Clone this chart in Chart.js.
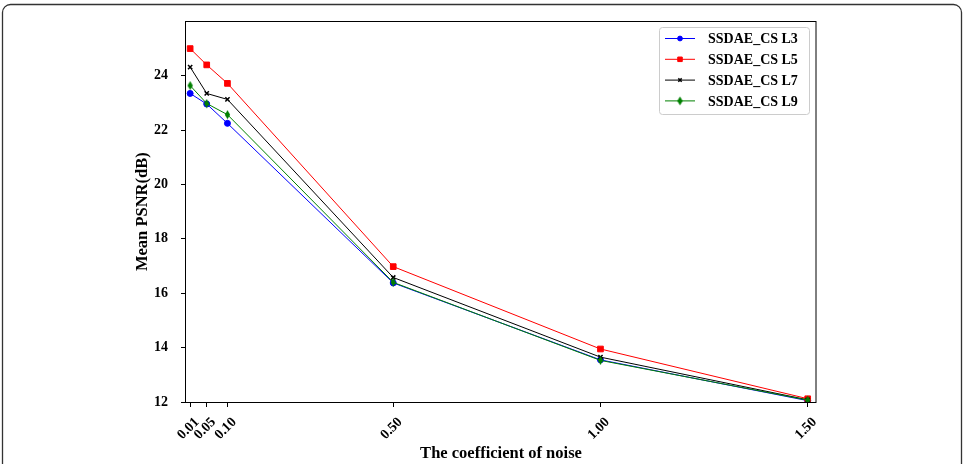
<!DOCTYPE html>
<html>
<head>
<meta charset="utf-8">
<script src="https://cdn.jsdelivr.net/npm/chart.js@4.4.0/dist/chart.umd.min.js"></script>
<style>
html,body{margin:0;padding:0;background:#fff;}
canvas{display:block;}
</style>
</head>
<body>
<canvas id="c" width="964" height="464"></canvas>
<script>
// ---- data ----
const noiseCoeff = [0.01, 0.05, 0.10, 0.50, 1.00, 1.50];
const xTickLabels = ['0.01', '0.05', '0.10', '0.50', '1.00', '1.50'];
const yTickValues = [12, 14, 16, 18, 20, 22, 24];
const seriesNames = ['SSDAE_CS L3', 'SSDAE_CS L5', 'SSDAE_CS L7', 'SSDAE_CS L9'];
const psnrL3 = [23.35, 22.96, 22.25, 16.38, 13.55, 12.05];
const psnrL5 = [25.00, 24.40, 23.72, 16.98, 13.95, 12.12];
const psnrL7 = [24.32, 23.35, 23.13, 16.58, 13.65, 12.08];
const psnrL9 = [23.64, 22.98, 22.57, 16.40, 13.53, 12.07];

const SERIF = '"Liberation Serif", "Times New Roman", serif';

// thin diamond marker
function thinDiamond(color) {
  const c = document.createElement('canvas');
  c.width = 7; c.height = 10;
  const g = c.getContext('2d');
  g.fillStyle = color;
  g.beginPath();
  g.moveTo(3.5, 0.5); g.lineTo(6.2, 5); g.lineTo(3.5, 9.5); g.lineTo(0.8, 5);
  g.closePath(); g.fill();
  return c;
}
const diamond = thinDiamond('#008000');

function mk(label, vals, color, style, radius, order) {
  return {
    label: label,
    data: noiseCoeff.map((x, i) => ({x: x, y: vals[i]})),
    borderColor: color,
    backgroundColor: color,
    borderWidth: 1,
    pointStyle: style,
    pointRadius: radius,
    pointBorderWidth: style === 'crossRot' ? 1.5 : 1,
    pointBorderColor: color,
    pointBackgroundColor: color,
    tension: 0,
    fill: false,
    order: order
  };
}

const datasets = [
  mk(seriesNames[0], psnrL3, '#0000ff', 'circle', 3, 3),
  mk(seriesNames[1], psnrL5, '#ff0000', 'rect', 4, 2),
  mk(seriesNames[2], psnrL7, '#000000', 'crossRot', 3, 1),
  mk(seriesNames[3], psnrL9, '#008000', diamond, 4, 0)
];

const framePlugin = {
  id: 'framePlugin',
  beforeDraw(chart) {
    const ctx = chart.ctx;
    ctx.save();
    ctx.fillStyle = '#fff';
    ctx.fillRect(0, 0, chart.width, chart.height);
    ctx.strokeStyle = '#333';
    ctx.lineWidth = 1.3;
    ctx.beginPath();
    ctx.roundRect(2.5, 4.5, 959, 490, 8);
    ctx.stroke();
    ctx.restore();
  },
  afterDraw(chart) {
    const ctx = chart.ctx;
    const a = chart.chartArea;
    ctx.save();
    ctx.strokeStyle = '#000';
    ctx.lineWidth = 1;
    ctx.strokeRect(Math.round(a.left) - 0.5, Math.round(a.top) + 0.5, Math.round(a.right - a.left) + 0.5, Math.round(a.bottom - a.top));
    // legend
    const lx = 659.5, ly = 27.5, lw = 150, lh = 87;
    ctx.fillStyle = 'rgba(255,255,255,0.85)';
    ctx.strokeStyle = '#cccccc';
    ctx.beginPath();
    ctx.roundRect(lx, ly, lw, lh, 3);
    ctx.fill();
    ctx.stroke();
    ctx.font = 'bold 14px ' + SERIF;
    ctx.textBaseline = 'middle';
    ctx.textAlign = 'left';
    chart.data.datasets.forEach((ds, i) => {
      const y = 38.5 + i * 20.8;
      ctx.strokeStyle = ds.borderColor;
      ctx.lineWidth = 1;
      ctx.beginPath();
      ctx.moveTo(665, y); ctx.lineTo(695, y);
      ctx.stroke();
      ctx.fillStyle = ds.pointBackgroundColor;
      ctx.strokeStyle = ds.pointBorderColor;
      ctx.lineWidth = ds.pointBorderWidth;
      Chart.helpers.drawPoint(ctx, {pointStyle: ds.pointStyle, radius: ds.pointRadius * 0.8, rotation: 0, borderWidth: ds.pointBorderWidth}, 680, y);
      ctx.fillStyle = '#000';
      ctx.fillText(ds.label, 708, y + 1);
    });
    ctx.restore();
  }
};

new Chart(document.getElementById('c'), {
  type: 'line',
  data: {datasets: datasets},
  options: {
    responsive: false,
    animation: false,
    devicePixelRatio: 1,
    layout: {padding: {left: 130, top: 19, right: 148, bottom: 0}},
    plugins: {legend: {display: false}, tooltip: {enabled: false}},
    scales: {
      x: {
        type: 'linear',
        min: 0,
        max: 1.52,
        border: {display: false},
        grid: {drawOnChartArea: false, tickLength: 5, tickColor: '#000', tickWidth: 1},
        afterBuildTicks(scale) { scale.ticks = noiseCoeff.map(v => ({value: v})); },
        afterFit(scale) { scale.height = 62; },
        ticks: {
          autoSkip: false,
          minRotation: 45,
          maxRotation: 45,
          padding: 7,
          labelOffset: 7,
          color: '#000',
          font: {family: SERIF, size: 14, weight: 'bold'},
          callback: (v, i) => xTickLabels[i]
        },
        title: {
          display: true,
          text: 'The coefficient of noise',
          color: '#000',
          font: {family: SERIF, size: 16.5, weight: 'bold'},
          padding: {top: 0, bottom: 0}
        }
      },
      y: {
        type: 'linear',
        min: 12,
        max: 26,
        border: {display: false},
        grid: {drawOnChartArea: false, tickLength: 5, tickColor: '#000', tickWidth: 1},
        afterBuildTicks(scale) { scale.ticks = yTickValues.map(v => ({value: v})); },
        afterFit(scale) { scale.width = 56; },
        ticks: {
          padding: 13,
          color: '#000',
          font: {family: SERIF, size: 14, weight: 'bold'},
          callback: v => String(v)
        },
        title: {
          display: true,
          text: 'Mean PSNR(dB)',
          color: '#000',
          font: {family: SERIF, size: 16.5, weight: 'bold'},
          padding: {top: 3, bottom: 0}
        }
      }
    }
  },
  plugins: [framePlugin]
});
</script>
</body>
</html>
